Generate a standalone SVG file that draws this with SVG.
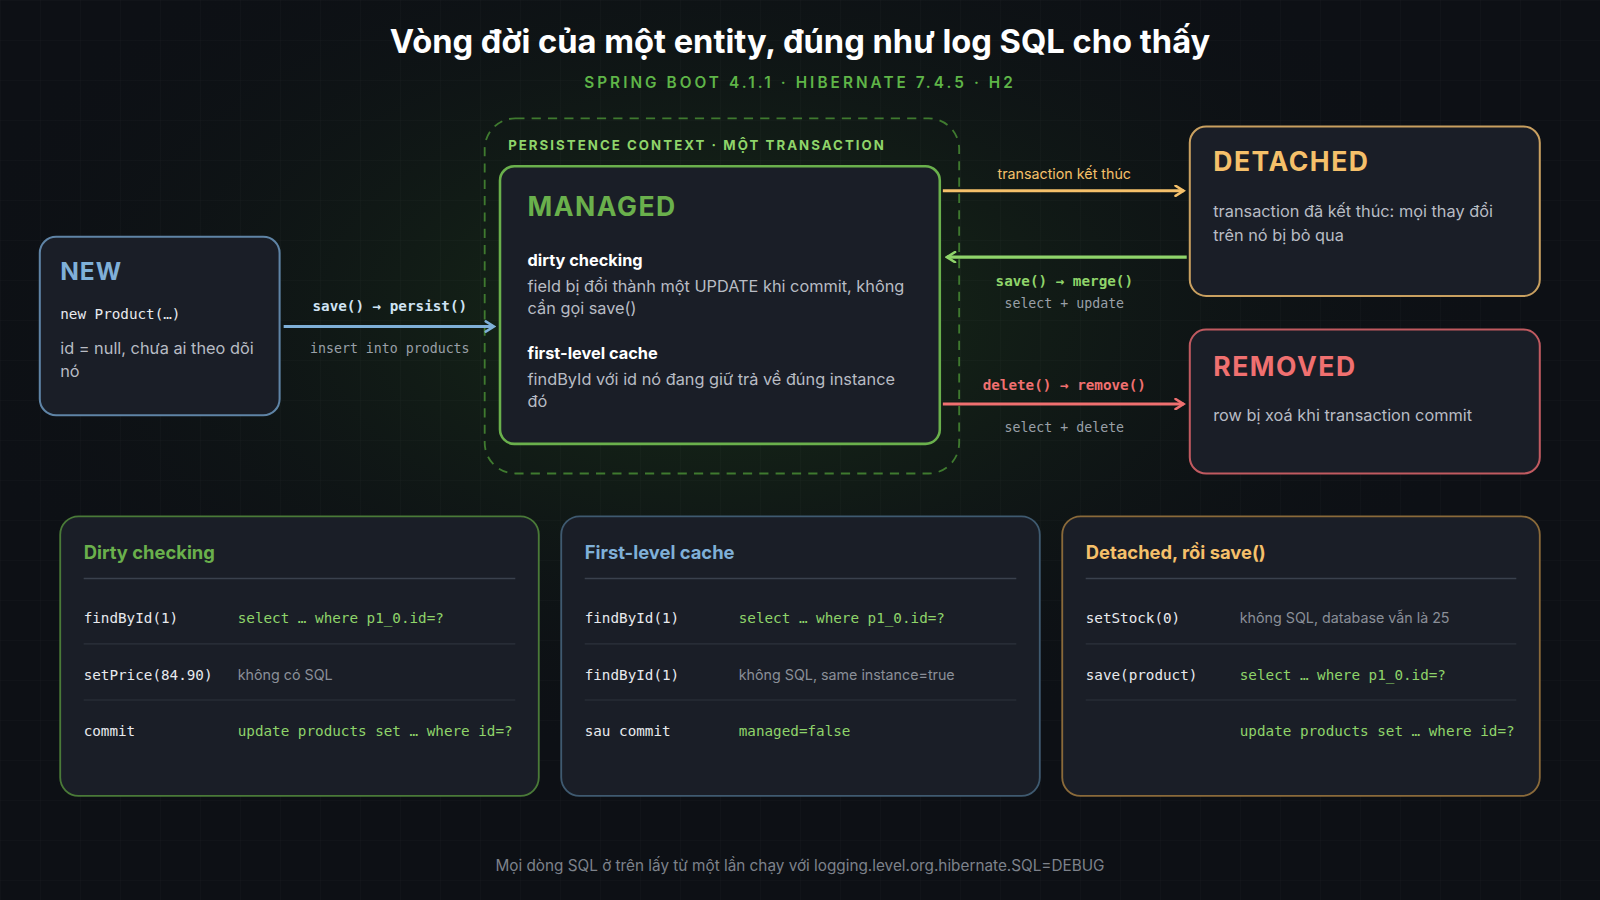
<svg xmlns="http://www.w3.org/2000/svg" width="1600" height="900" viewBox="0 0 1600 900">
<defs>
<radialGradient id="glow" cx="0.45" cy="0.35" r="0.5">
<stop offset="0" stop-color="#1a3318" stop-opacity="0.9"/>
<stop offset="1" stop-color="#0d1015" stop-opacity="0"/>
</radialGradient>
<pattern id="grid" width="40" height="40" patternUnits="userSpaceOnUse">
<path d="M40 0H0V40" fill="none" stroke="#ffffff" stroke-opacity="0.03" stroke-width="1"/>
</pattern>
<marker id="mB" viewBox="0 0 12 12" refX="10" refY="6" markerWidth="12" markerHeight="12" markerUnits="userSpaceOnUse" orient="auto"><path d="M2 1L10 6L2 11" fill="none" stroke="#7fb0d8" stroke-width="2.5" stroke-linecap="round"/></marker>
<marker id="mO" viewBox="0 0 12 12" refX="10" refY="6" markerWidth="12" markerHeight="12" markerUnits="userSpaceOnUse" orient="auto"><path d="M2 1L10 6L2 11" fill="none" stroke="#f5c06a" stroke-width="2.5" stroke-linecap="round"/></marker>
<marker id="mG" viewBox="0 0 12 12" refX="10" refY="6" markerWidth="12" markerHeight="12" markerUnits="userSpaceOnUse" orient="auto"><path d="M2 1L10 6L2 11" fill="none" stroke="#8fd46a" stroke-width="2.5" stroke-linecap="round"/></marker>
<marker id="mR" viewBox="0 0 12 12" refX="10" refY="6" markerWidth="12" markerHeight="12" markerUnits="userSpaceOnUse" orient="auto"><path d="M2 1L10 6L2 11" fill="none" stroke="#f07070" stroke-width="2.5" stroke-linecap="round"/></marker>
</defs>
<style>
text{font-family:"Inter","Liberation Sans",sans-serif}
.mono{font-family:"DejaVu Sans Mono","Liberation Mono",monospace}
.box{fill:#1a1e27}
.body{fill:#b8bcc4;font-size:16px}
.h{font-weight:700}
.row{fill:#e8eaee;font-size:14px}
.sql{fill:#8fd46a;font-size:14px}
.note{fill:#8a8f98;font-size:14px}
.sep{stroke:#2c323d;stroke-width:1}
.div{stroke:#3a414d;stroke-width:1.5}
</style>
<rect width="1600" height="900" fill="#0d1015"/>
<rect width="1600" height="900" fill="url(#glow)"/>
<rect width="1600" height="900" fill="url(#grid)"/>
<g transform="scale(1.0204)">
<text x="784" y="52" text-anchor="middle" fill="#ffffff" font-size="32" class="h">Vòng đời của một entity, đúng như log SQL cho thấy</text>
<text x="784" y="86" text-anchor="middle" fill="#5fb548" font-size="15" letter-spacing="3" font-weight="600">SPRING BOOT 4.1.1 · HIBERNATE 7.4.5 · H2</text>

<g id="context">
<rect x="475" y="116" width="465" height="348" rx="30" fill="none" stroke="#3f7a2f" stroke-width="1.8" stroke-dasharray="9 7"/>
<text x="498" y="147" fill="#8fd46a" font-size="13" letter-spacing="2" class="h">PERSISTENCE CONTEXT · MỘT TRANSACTION</text>
</g>
<g id="managed">
<rect x="490" y="163" width="431" height="272" rx="14" class="box" stroke="#6ab04c" stroke-width="2.5"/>
<text x="517" y="212" fill="#6ab04c" font-size="26" letter-spacing="1.5" class="h">MANAGED</text>
<text x="517" y="261" fill="#ffffff" font-size="16" class="h">dirty checking</text>
<text x="517" y="286" class="body">field bị đổi thành một UPDATE khi commit, không</text>
<text x="517" y="308" class="body">cần gọi save()</text>
<text x="517" y="352" fill="#ffffff" font-size="16" class="h">first-level cache</text>
<text x="517" y="377" class="body">findById với id nó đang giữ trả về đúng instance</text>
<text x="517" y="399" class="body">đó</text>
</g>
<g id="new">
<rect x="39" y="232" width="235" height="175" rx="16" class="box" stroke="#5f84a6" stroke-width="2"/>
<text x="59" y="274" fill="#7fb0d8" font-size="24" letter-spacing="1" class="h">NEW</text>
<text x="59" y="313" class="mono" fill="#e8eaee" font-size="14">new Product(…)</text>
<text x="59" y="347" class="body">id = null, chưa ai theo dõi</text>
<text x="59" y="369" class="body">nó</text>
</g>
<g id="detached">
<rect x="1166" y="124" width="343" height="166" rx="16" class="box" stroke="#c9a060" stroke-width="2"/>
<text x="1189" y="168" fill="#f5c06a" font-size="26" letter-spacing="1.5" class="h">DETACHED</text>
<text x="1189" y="213" class="body">transaction đã kết thúc: mọi thay đổi</text>
<text x="1189" y="236" class="body">trên nó bị bỏ qua</text>
</g>
<g id="removed">
<rect x="1166" y="323" width="343" height="141" rx="16" class="box" stroke="#c05a60" stroke-width="2"/>
<text x="1189" y="368" fill="#f07070" font-size="26" letter-spacing="1.5" class="h">REMOVED</text>
<text x="1189" y="413" class="body">row bị xoá khi transaction commit</text>
</g>
<g id="connectors" fill="none" stroke-width="3">
<line x1="278" y1="320" x2="484" y2="320" stroke="#7fb0d8" marker-end="url(#mB)"/>
<line x1="924" y1="187" x2="1160" y2="187" stroke="#f5c06a" marker-end="url(#mO)"/>
<line x1="1163" y1="252" x2="928" y2="252" stroke="#8fd46a" marker-end="url(#mG)"/>
<line x1="924" y1="396" x2="1160" y2="396" stroke="#f07070" marker-end="url(#mR)"/>
</g>
<g id="connector-labels">
<text x="382" y="305" text-anchor="middle" class="mono h" fill="#cfe3f3" font-size="14">save() → persist()</text>
<text x="382" y="346" text-anchor="middle" class="mono" fill="#9aa0a8" font-size="13">insert into products</text>
<text x="1043" y="175" text-anchor="middle" fill="#f5c06a" font-size="14">transaction kết thúc</text>
<text x="1043" y="280" text-anchor="middle" class="mono h" fill="#8fd46a" font-size="14">save() → merge()</text>
<text x="1043" y="302" text-anchor="middle" class="mono" fill="#9aa0a8" font-size="13">select + update</text>
<text x="1043" y="382" text-anchor="middle" class="mono h" fill="#f07070" font-size="14">delete() → remove()</text>
<text x="1043" y="423" text-anchor="middle" class="mono" fill="#9aa0a8" font-size="13">select + delete</text>
</g>

<g id="panel-dirty">
<rect x="59" y="506" width="469" height="274" rx="18" class="box" stroke="#4a7a38" stroke-width="1.8"/>
<text x="82" y="548" fill="#6ab04c" font-size="18" class="h">Dirty checking</text>
<line x1="82" y1="567" x2="505" y2="567" class="div"/>
<text x="82" y="611" class="mono row">findById(1)</text><text x="233" y="611" class="mono sql">select … where p1_0.id=?</text>
<line x1="82" y1="631" x2="505" y2="631" class="sep"/>
<text x="82" y="666" class="mono row">setPrice(84.90)</text><text x="233" y="666" class="note">không có SQL</text>
<line x1="82" y1="686" x2="505" y2="686" class="sep"/>
<text x="82" y="721" class="mono row">commit</text><text x="233" y="721" class="mono sql">update products set … where id=?</text>
</g>
<g id="panel-cache">
<rect x="550" y="506" width="469" height="274" rx="18" class="box" stroke="#3f5a70" stroke-width="1.8"/>
<text x="573" y="548" fill="#7fb0d8" font-size="18" class="h">First-level cache</text>
<line x1="573" y1="567" x2="996" y2="567" class="div"/>
<text x="573" y="611" class="mono row">findById(1)</text><text x="724" y="611" class="mono sql">select … where p1_0.id=?</text>
<line x1="573" y1="631" x2="996" y2="631" class="sep"/>
<text x="573" y="666" class="mono row">findById(1)</text><text x="724" y="666" class="note">không SQL, same instance=true</text>
<line x1="573" y1="686" x2="996" y2="686" class="sep"/>
<text x="573" y="721" class="mono row">sau commit</text><text x="724" y="721" class="mono sql">managed=false</text>
</g>
<g id="panel-detached">
<rect x="1041" y="506" width="468" height="274" rx="18" class="box" stroke="#8a6a3a" stroke-width="1.8"/>
<text x="1064" y="548" fill="#f5c06a" font-size="18" class="h">Detached, rồi save()</text>
<line x1="1064" y1="567" x2="1486" y2="567" class="div"/>
<text x="1064" y="611" class="mono row">setStock(0)</text><text x="1215" y="611" class="note">không SQL, database vẫn là 25</text>
<line x1="1064" y1="631" x2="1486" y2="631" class="sep"/>
<text x="1064" y="666" class="mono row">save(product)</text><text x="1215" y="666" class="mono sql">select … where p1_0.id=?</text>
<line x1="1064" y1="686" x2="1486" y2="686" class="sep"/>
<text x="1215" y="721" class="mono sql">update products set … where id=?</text>
</g>
<text x="784" y="854" text-anchor="middle" fill="#7d828b" font-size="15">Mọi dòng SQL ở trên lấy từ một lần chạy với logging.level.org.hibernate.SQL=DEBUG</text>
</g>
</svg>
